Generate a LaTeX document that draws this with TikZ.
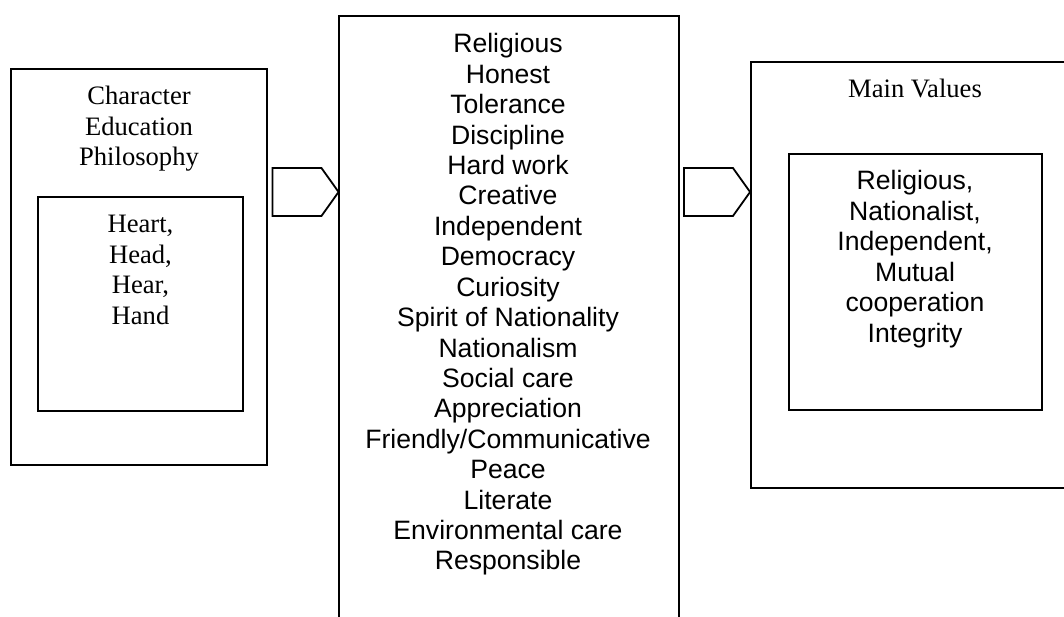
\documentclass[tikz,border=0pt]{standalone}
\usepackage{fontspec}
\setmainfont{Liberation Serif}
\newfontfamily\arialfont{Liberation Sans}
\usetikzlibrary{positioning,shapes.symbols}

\tikzset{
  box/.style={draw, rectangle, line width=1.8pt, inner sep=0pt},
  blockarrow/.style={draw, shape=signal, signal to=east, signal from=nowhere,
    line width=1.8pt, inner sep=0pt, minimum width=66pt, minimum height=48pt,
    signal pointer angle=109},
  serifline/.style={anchor=base, inner sep=0pt, font=\fontsize{26.6}{30.4}\selectfont},
  sansline/.style={anchor=base, inner sep=0pt, font=\arialfont\fontsize{26.6}{30.4}\selectfont},
}

\begin{document}
\begin{tikzpicture}[x=1pt, y=-1pt]
    \useasboundingbox (0,0) rectangle (1064,617);
    \clip (0,0) rectangle (1064,617);
    \fill[white] (0,0) rectangle (1064,617);

    \def\gap{30.4}

    % philosophy
    \node[box, minimum width=256pt, minimum height=396pt] (phil) at (139,267) {};
    \node[box, minimum width=205pt, minimum height=214pt] (hfour) at (140.5,304) {};
    \foreach \txt [count=\i] in {Character, Education, Philosophy}
        \node[serifline] (phil\i) at (139, {105+\gap*(\i-1)}) {\txt};
    \foreach \txt [count=\i] in {{Heart,}, {Head,}, {Hear,}, Hand}
        \node[serifline] (hfour\i) at (140.5, {233+\gap*(\i-1)}) {\txt};

    % the eighteen values
    \node[box, minimum width=340pt, minimum height=634pt] (values) at (509,333) {};
    \foreach \txt [count=\i] in {Religious, Honest, Tolerance, Discipline, Hard work,
        Creative, Independent, Democracy, Curiosity, Spirit of Nationality,
        Nationalism, Social care, Appreciation, Friendly/Communicative, Peace,
        Literate, Environmental care, Responsible}
        \node[sansline] (val\i) at (508, {53+\gap*(\i-1)}) {\txt};

    % main values
    \node[box, minimum width=349pt, minimum height=426pt] (main) at (925.5,275) {};
    \node[box, minimum width=253pt, minimum height=256pt] (core) at (915.5,282) {};
    \node[serifline] (mainlbl) at (915,98) {Main Values};
    \foreach \txt [count=\i] in {{Religious,}, {Nationalist,}, {Independent,}, Mutual,
        cooperation, Integrity}
        \node[sansline] (core\i) at (915, {190+\gap*(\i-1)}) {\txt};

    % block arrows
    \node[blockarrow] (arrowa) at (297,192) {};
    \node[blockarrow] (arrowb) at (708.5,192) {};

\end{tikzpicture}
\end{document}
